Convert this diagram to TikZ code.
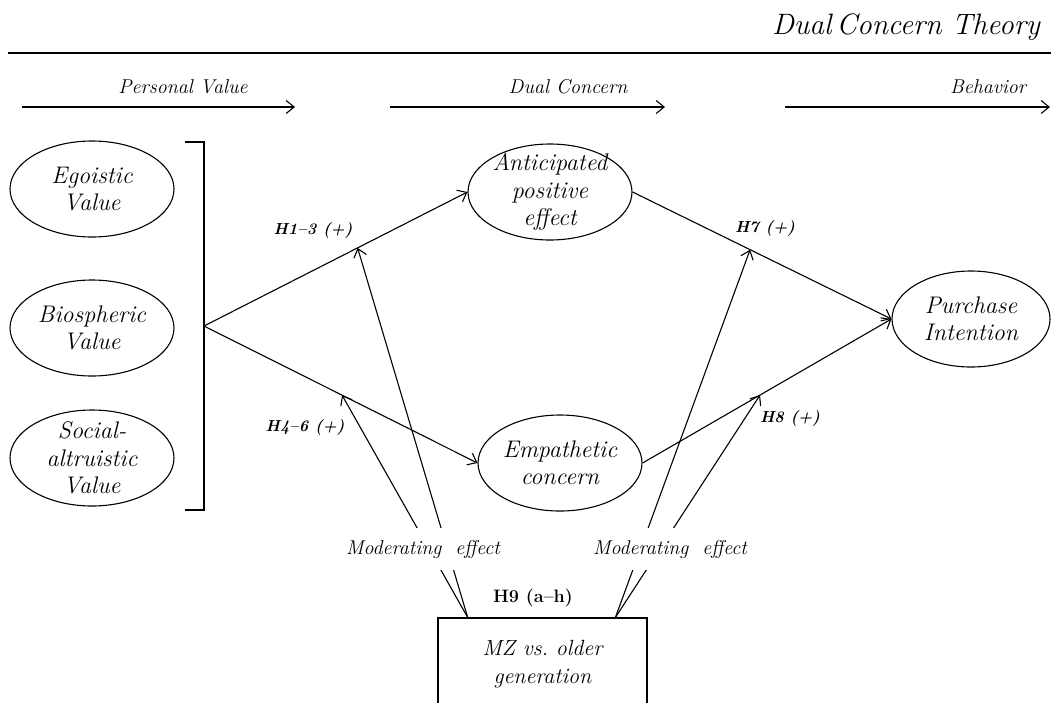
\documentclass[tikz,border=0pt]{standalone}
\usetikzlibrary{shapes.geometric,arrows.meta,calc}
\begin{document}
\begin{tikzpicture}[x=1pt,y=-1pt,
  lab/.style={align=center,inner sep=0pt,font=\fontsize{24}{27.5}\selectfont\itshape},
  conc/.style={ellipse,draw,line width=1.1pt,minimum width=164pt,minimum height=96pt,inner sep=0pt,label={[lab]center:#1}},
  link/.style={line width=1.1pt,-{Straight Barb[length=8pt,width=13pt]}},
  plain/.style={line width=1.1pt},
  hyp/.style={font=\fontsize{16}{20}\selectfont\bfseries\itshape},
  stage/.style={font=\fontsize{20}{22}\selectfont\itshape},
  moder/.style={fill=white,inner xsep=2pt,inner ysep=12pt,font=\fontsize{20}{22}\selectfont\itshape}]
\clip (0,0) rectangle (1051,702);
\fill[white] (0,0) rectangle (1051,702);

% title and stage arrows
\node[font=\fontsize{29.5}{32}\selectfont\itshape] (title) at (906,27) {Dual\,Concern Theory};
\coordinate (tl1) at (8,53);
\coordinate (tl2) at (1051,53);
\draw[plain] (tl1) -- (tl2);

\coordinate (a1s) at (22,107); \coordinate (a1e) at (295,107);
\coordinate (a2s) at (390,107); \coordinate (a2e) at (665,107);
\coordinate (a3s) at (785,107); \coordinate (a3e) at (1050,107);
\draw[link] (a1s) -- (a1e);
\draw[link] (a2s) -- (a2e);
\draw[link] (a3s) -- (a3e);
\node[stage] (pv) at (183,87) {Personal Value};
\node[stage] (dc) at (568,87) {Dual Concern};
\node[stage] (bh) at (988,87) {Behavior};

% constructs
\node[conc={Egoistic\\Value}] (ego) at (92,189) {};
\node[conc={Biospheric\\Value}] (bio) at (92,328) {};
\node[conc={Social-\\altruistic\\Value}] (soc) at (92,458) {};
\node[conc={Anticipated\\positive\\effect}] (ant) at (550,192) {};
\node[conc={Empathetic\\concern}] (emp) at (560,463) {};
\node[conc={Purchase\\Intention},minimum width=158pt] (pur) at (971,319) {};
\node[draw,line width=1.1pt,minimum width=209pt,minimum height=92pt,align=center,
      font=\fontsize{22}{28}\selectfont\itshape] (mz) at (542.5,664) {MZ vs.\ older\\generation};

% bracket
\coordinate (bt) at (204,142);
\coordinate (bb) at (204,510);
\coordinate (apex) at (204,326);
\draw[plain] (185,142) -- (bt) -- (bb) -- (185,510);

% paths
\draw[link] (apex) -- (ant.west) coordinate[pos=0.583] (m1);
\draw[link] (apex) -- (emp.west) coordinate[pos=0.505] (m2);
\draw[link] (ant.east) -- (pur.west) coordinate[pos=0.454] (m3);
\draw[link] (emp.east) -- (pur.west) coordinate[pos=0.472] (m4);

% moderating arrows
\coordinate (s1) at ($(mz.north west)!0.144!(mz.north east)$);
\coordinate (s2) at ($(mz.north west)!0.847!(mz.north east)$);
\draw[link] (s1) -- (m1);
\draw[link] (s1) -- (m2);
\draw[link] (s2) -- (m3);
\draw[link] (s2) -- (m4);
\node[moder] (mod1) at (423,549) {Moderating\ \ effect};
\node[moder] (mod2) at (670,549) {Moderating\ \ effect};

% hypothesis labels
\node[hyp] (h13) at (313,230) {H1--3 (+)};
\node[hyp] (h46) at (305,427) {H4--6 (+)};
\node[hyp] (h7) at (765,228) {H7 (+)};
\node[hyp] (h8) at (790,418) {H8 (+)};
\node[font=\fontsize{18}{20}\selectfont\bfseries] (h9) at (533,598) {H9 (a--h)};
\end{tikzpicture}
\end{document}
